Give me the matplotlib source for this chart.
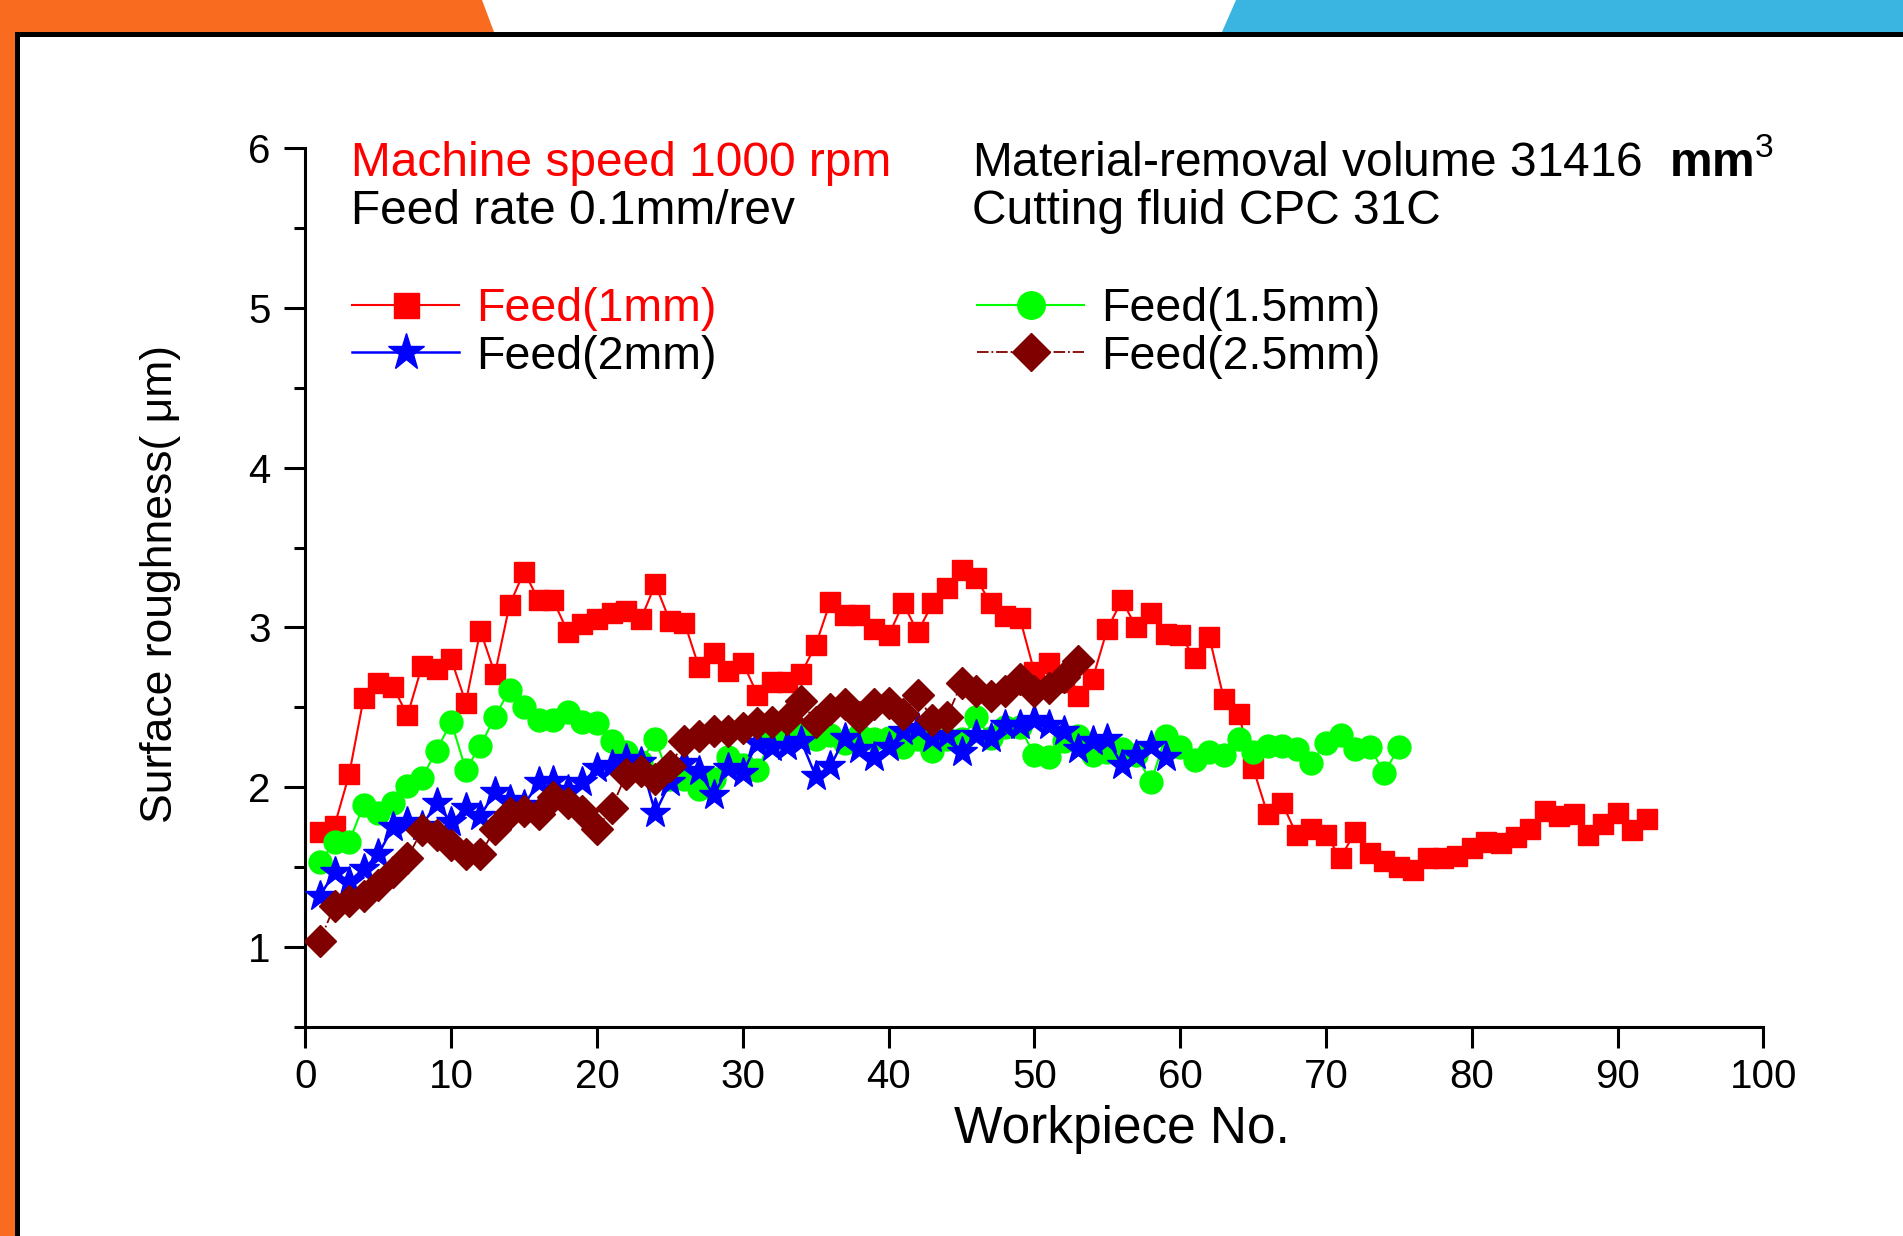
import matplotlib
matplotlib.use("Agg")
import matplotlib.pyplot as plt
from matplotlib.patches import Polygon, Rectangle

plt.rcParams["font.family"] = ["Liberation Sans", "DejaVu Sans"]
plt.rcParams["mathtext.fontset"] = "custom"
plt.rcParams["mathtext.rm"] = "Liberation Sans"
plt.rcParams["mathtext.bf"] = "Liberation Sans:bold"

# ---- data: surface roughness (um) per workpiece, one list per feed depth ----
feed_1mm = [1.72, 1.76, 2.08, 2.56, 2.65, 2.63, 2.45, 2.76, 2.74, 2.80,
            2.53, 2.98, 2.71, 3.14, 3.35, 3.17, 3.17, 2.97, 3.02, 3.05,
            3.09, 3.10, 3.05, 3.27, 3.04, 3.03, 2.75, 2.84, 2.73, 2.78,
            2.58, 2.66, 2.66, 2.71, 2.89, 3.16, 3.08, 3.08, 2.99, 2.95,
            3.15, 2.97, 3.15, 3.25, 3.36, 3.31, 3.15, 3.07, 3.06, 2.72,
            2.78, 2.66, 2.57, 2.68, 2.99, 3.17, 3.00, 3.09, 2.96, 2.95,
            2.81, 2.94, 2.55, 2.46, 2.12, 1.83, 1.90, 1.70, 1.74, 1.70,
            1.56, 1.72, 1.59, 1.54, 1.50, 1.48, 1.56, 1.56, 1.57, 1.62,
            1.66, 1.65, 1.69, 1.74, 1.85, 1.82, 1.83, 1.70, 1.77, 1.84,
            1.73, 1.80]

feed_1_5mm = [1.53, 1.66, 1.66, 1.89, 1.84, 1.90, 2.01, 2.06, 2.23, 2.41,
              2.11, 2.26, 2.44, 2.61, 2.50, 2.42, 2.42, 2.47, 2.41, 2.40,
              2.29, 2.22, 2.16, 2.30, 2.05, 2.05, 1.99, 2.05, 2.19, 2.14,
              2.11, 2.31, 2.30, 2.36, 2.30, 2.33, 2.28, 2.33, 2.30, 2.31,
              2.25, 2.30, 2.23, 2.30, 2.30, 2.44, 2.31, 2.38, 2.38, 2.20,
              2.19, 2.29, 2.32, 2.20, 2.22, 2.24, 2.20, 2.03, 2.32, 2.25,
              2.17, 2.22, 2.20, 2.30, 2.22, 2.26, 2.26, 2.24, 2.15, 2.28,
              2.33, 2.24, 2.25, 2.09, 2.25]

feed_2mm = [1.32, 1.47, 1.41, 1.49, 1.58, 1.75, 1.78, 1.76, 1.90, 1.78,
            1.87, 1.82, 1.97, 1.92, 1.89, 2.03, 2.04, 1.98, 2.03, 2.12,
            2.14, 2.18, 2.16, 1.84, 2.03, 2.15, 2.10, 1.95, 2.12, 2.09,
            2.28, 2.25, 2.26, 2.29, 2.07, 2.13, 2.31, 2.24, 2.19, 2.25,
            2.35, 2.37, 2.31, 2.33, 2.22, 2.33, 2.31, 2.39, 2.39, 2.42,
            2.39, 2.35, 2.24, 2.29, 2.30, 2.14, 2.20, 2.26, 2.19]

feed_2_5mm = [1.04, 1.26, 1.29, 1.32, 1.39, 1.47, 1.56, 1.73, 1.70, 1.64,
              1.58, 1.58, 1.74, 1.84, 1.85, 1.83, 1.94, 1.90, 1.85, 1.74,
              1.87, 2.08, 2.10, 2.05, 2.13, 2.29, 2.32, 2.35, 2.35, 2.37,
              2.40, 2.41, 2.43, 2.54, 2.41, 2.49, 2.52, 2.44, 2.52, 2.53,
              2.46, 2.58, 2.42, 2.44, 2.65, 2.60, 2.57, 2.60, 2.68, 2.60,
              2.62, 2.69, 2.79]

series_labels = ["Feed(1mm)", "Feed(1.5mm)", "Feed(2mm)", "Feed(2.5mm)"]
x_ticks = list(range(0, 101, 10))
y_ticks = [1, 2, 3, 4, 5, 6]

W, H = 1903, 1236
fig = plt.figure(figsize=(W / 100, H / 100), dpi=100)
fig.patch.set_facecolor("white")


def fx(px):
    return px / W


def fy(py):
    return 1 - py / H


# slide frame: orange and blue header strips, orange side strip, black rule
orange = "#F96B1F"
blue = "#3AB4E0"
fig.patches.append(Polygon([(fx(0), fy(0)), (fx(482), fy(0)), (fx(494), fy(32)),
                            (fx(0), fy(32))], closed=True, transform=fig.transFigure,
                           facecolor=orange, edgecolor="none", zorder=0))
fig.patches.append(Rectangle((fx(0), fy(H)), fx(15), fy(32) - fy(H),
                             transform=fig.transFigure, facecolor=orange,
                             edgecolor="none", zorder=0))
fig.patches.append(Polygon([(fx(1236), fy(0)), (fx(W), fy(0)), (fx(W), fy(32)),
                            (fx(1222), fy(32))], closed=True, transform=fig.transFigure,
                           facecolor=blue, edgecolor="none", zorder=0))
fig.patches.append(Rectangle((fx(15), fy(37)), fx(W - 15), fy(32) - fy(37),
                             transform=fig.transFigure, facecolor="black",
                             edgecolor="none", zorder=1))
fig.patches.append(Rectangle((fx(15), fy(H)), fx(5), fy(32) - fy(H),
                             transform=fig.transFigure, facecolor="black",
                             edgecolor="none", zorder=1))

ax = fig.add_axes([fx(305.4), fy(1027), fx(1763.4 - 305.4), fy(148) - fy(1027)])
ax.set_facecolor("none")

x1 = range(1, len(feed_1mm) + 1)
x15 = range(1, len(feed_1_5mm) + 1)
x2 = range(1, len(feed_2mm) + 1)
x25 = range(1, len(feed_2_5mm) + 1)

l1, = ax.plot(x1, feed_1mm, color="#FF0000", lw=1.5, ls="-", marker="s", ms=15,
              mec="#FF0000", mfc="#FF0000", label=series_labels[0], zorder=3)
l15, = ax.plot(x15, feed_1_5mm, color="#00FF00", lw=1.5, ls="-", marker="o", ms=16.5,
               mec="#00FF00", mfc="#00FF00", label=series_labels[1], zorder=4)
l2, = ax.plot(x2, feed_2mm, color="#0000FF", lw=1.8, ls="-", marker="*", ms=23,
              mec="#0000FF", mfc="#0000FF", label=series_labels[2], zorder=5)
l25, = ax.plot(x25, feed_2_5mm, color="#800000", lw=1.3, ls="-.", marker="D", ms=16,
               mec="#800000", mfc="#800000", label=series_labels[3], zorder=6)

ax.set_xlim(0, 100)
ax.set_ylim(0.5, 6)
ax.set_xticks(x_ticks)
ax.set_yticks(y_ticks)
ax.set_yticks([0.5 + k for k in range(6)], minor=True)
for side in ("top", "right"):
    ax.spines[side].set_visible(False)
for side in ("left", "bottom"):
    ax.spines[side].set_linewidth(2.2)
ax.tick_params(axis="both", which="major", direction="out", length=15, width=2.2,
               labelsize=29, color="black")
ax.tick_params(axis="y", which="major", pad=10)
ax.tick_params(axis="x", which="major", pad=7)
ax.tick_params(axis="y", which="minor", direction="out", length=8, width=2.2)

ax.text(0.56, -0.132, "Workpiece No.", transform=ax.transAxes, ha="center",
        va="baseline", fontsize=37)
ax.text(-0.0997, 0.504, "Surface roughness( \u03bcm)", transform=ax.transAxes,
        ha="center", va="center", rotation=90, fontsize=32)

# cutting conditions
ax.text(0.031, 0.968, "Machine speed 1000 rpm", transform=ax.transAxes,
        ha="left", va="baseline", fontsize=34.5, color="#FF0000")
ax.text(0.031, 0.9136, "Feed rate 0.1mm/rev", transform=ax.transAxes,
        ha="left", va="baseline", fontsize=34.5, color="black")
ax.text(0.4575, 0.968, "Material-removal volume 31416  $\\mathbf{mm}^{\\mathrm{3}}$",
        transform=ax.transAxes, ha="left", va="baseline", fontsize=34.5, color="black")
ax.text(0.4575, 0.9136, "Cutting fluid CPC 31C", transform=ax.transAxes,
        ha="left", va="baseline", fontsize=34.5, color="black")

# legend rows: (1mm, 1.5mm) then (2mm, 2.5mm); columns fill top-down
handles = [l1, l2, l15, l25]
leg = ax.legend(handles=handles, labels=[h.get_label() for h in handles],
                loc="upper left", bbox_to_anchor=(0.032, 0.842), ncol=2,
                frameon=False, fontsize=33.5, borderpad=0, borderaxespad=0,
                handlelength=2.3, handletextpad=0.37, columnspacing=5.6,
                labelspacing=0.08, numpoints=1)
for txt in leg.get_texts():
    txt.set_color("#FF0000" if txt.get_text() == series_labels[0] else "black")
for h in leg.legend_handles:
    h.set_markersize(h.get_markersize() * 1.2)

fig.savefig("out.png", dpi=100, facecolor="white")
